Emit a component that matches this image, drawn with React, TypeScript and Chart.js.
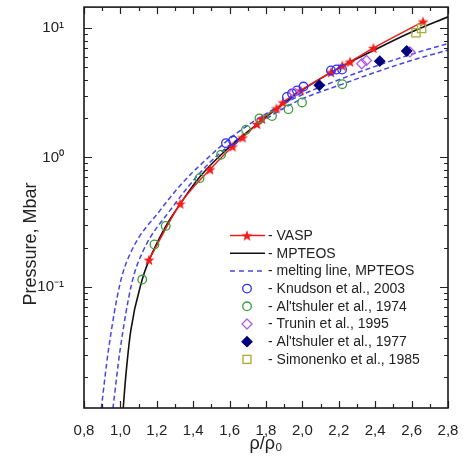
import React, { useEffect, useRef } from 'react';
import { Chart, registerables } from 'chart.js';

Chart.register(...registerables);

// ---------- data ----------
const xTickValues = [0.8, 1.0, 1.2, 1.4, 1.6, 1.8, 2.0, 2.2, 2.4, 2.6, 2.8];
const yTickValues = [0.1, 1, 10];
const yTickLabels = ['10\u207B\u00B9', '10\u2070', '10\u00B9'];

const vaspRho = [1.157, 1.329, 1.492, 1.616, 1.671, 1.751, 1.778, 1.858, 1.893, 1.99, 2.157, 2.219, 2.262, 2.39, 2.663];
const vaspP = [0.162, 0.439, 0.808, 1.216, 1.427, 1.814, 1.99, 2.39, 2.66, 3.29, 4.55, 5.12, 5.49, 7.0, 11.2];

const mpteosRho = [1.012, 1.029, 1.057, 1.12, 1.157, 1.25, 1.33, 1.43, 1.55, 1.75, 1.99, 2.2, 2.39, 2.6, 2.8];
const mpteosP = [0.01, 0.02, 0.046, 0.114, 0.16, 0.295, 0.44, 0.69, 1.04, 1.8, 3.25, 4.9, 6.7, 9.3, 12.2];

const meltARho = [0.895, 0.934, 0.998, 1.062, 1.218, 1.33, 1.437, 1.65, 1.932, 2.216, 2.573, 2.8];
const meltAP = [0.0115, 0.0323, 0.106, 0.191, 0.39, 0.61, 0.87, 1.58, 2.75, 4.06, 6.1, 7.59];

const meltBRho = [0.959, 0.998, 1.062, 1.126, 1.273, 1.476, 1.7, 1.95, 2.216, 2.573, 2.8];
const meltBP = [0.0115, 0.0323, 0.106, 0.191, 0.39, 0.87, 1.58, 2.63, 3.67, 5.47, 6.75];

const knudsonRho = [1.58, 1.619, 1.915, 1.943, 1.97, 2.006, 2.157, 2.187, 2.218];
const knudsonP = [1.29, 1.35, 2.93, 3.12, 3.29, 3.53, 4.7, 4.78, 4.78];

const alt74Rho = [1.12, 1.187, 1.249, 1.435, 1.553, 1.69, 1.764, 1.833, 1.923, 1.998, 2.219];
const alt74P = [0.114, 0.213, 0.296, 0.692, 1.05, 1.64, 2.0, 2.09, 2.36, 2.66, 3.68];

const truninRho = [1.954, 2.326, 2.352, 2.591];
const truninP = [3.18, 5.29, 5.61, 6.53];

const alt77Rho = [2.093, 2.425, 2.573];
const alt77P = [3.61, 5.54, 6.64];

const simonenkoRho = [2.624, 2.655];
const simonenkoP = [9.2, 9.91];

const legendLabels = [
  '- VASP',
  '- MPTEOS',
  '- melting line, MPTEOS',
  '- Knudson et al., 2003',
  "- Al'tshuler et al., 1974",
  '- Trunin et al., 1995',
  "- Al'tshuler et al., 1977",
  '- Simonenko et al., 1985',
];

// ---------- styles ----------
const FONT = "'Liberation Sans', Arial, sans-serif";
const RED = '#f01c1c';
const BLACK = '#111111';
const BLUE_DASH = '#4646e6';
const KNUDSON = '#2f2fff';
const GREEN = '#3c9c3c';
const PURPLE = '#b45ee6';
const NAVY = '#00007a';
const OLIVE = '#a8a838';

const pts = (xs: number[], ys: number[]) => xs.map((x, i) => ({ x, y: ys[i] }));
const fmtX = (v: number) => v.toFixed(1).replace('.', ',');

function makeStar(color: string, r: number) {
  const c = document.createElement('canvas');
  const s = Math.ceil(r * 2 + 2);
  c.width = s;
  c.height = s;
  const g = c.getContext('2d')!;
  g.translate(s / 2, s / 2 + 0.6);
  g.beginPath();
  for (let i = 0; i < 10; i++) {
    const rr = i % 2 === 0 ? r : r * 0.42;
    const a = -Math.PI / 2 + (i * Math.PI) / 5;
    const px = Math.cos(a) * rr;
    const py = Math.sin(a) * rr;
    if (i === 0) g.moveTo(px, py);
    else g.lineTo(px, py);
  }
  g.closePath();
  g.fillStyle = color;
  g.fill();
  return c;
}

export default function App() {
  const canvasRef = useRef<HTMLCanvasElement | null>(null);

  useEffect(() => {
    const canvas = canvasRef.current;
    if (!canvas) return;
    const star = makeStar(RED, 5.8);

    const framePlugin = {
      id: 'frameTicks',
      afterDraw(chart: any) {
        const { ctx, chartArea } = chart;
        const xs = chart.scales.x;
        const ys = chart.scales.y;
        const { left, right, top, bottom } = chartArea;
        ctx.save();
        ctx.strokeStyle = '#222';
        ctx.lineWidth = 1.2;
        ctx.beginPath();
        for (let i = 0; i < xTickValues.length; i++) {
          const px = Math.round(xs.getPixelForValue(xTickValues[i])) + 0.5;
          ctx.moveTo(px, bottom); ctx.lineTo(px, bottom - 7);
          ctx.moveTo(px, top); ctx.lineTo(px, top + 7);
          if (i < xTickValues.length - 1) {
            const mid = (xTickValues[i] + xTickValues[i + 1]) / 2;
            const pm = Math.round(xs.getPixelForValue(mid)) + 0.5;
            ctx.moveTo(pm, bottom); ctx.lineTo(pm, bottom - 4);
            ctx.moveTo(pm, top); ctx.lineTo(pm, top + 4);
          }
        }
        for (let d = -2; d <= 1; d++) {
          for (let m = 1; m <= 9; m++) {
            const v = m * Math.pow(10, d);
            if (v < ys.min || v > ys.max) continue;
            const py = Math.round(ys.getPixelForValue(v)) + 0.5;
            const len = m === 1 ? 8 : 4;
            ctx.moveTo(left, py); ctx.lineTo(left + len, py);
            ctx.moveTo(right, py); ctx.lineTo(right - len, py);
          }
        }
        ctx.stroke();
        ctx.lineWidth = 1.6;
        ctx.strokeStyle = '#1a1a1a';
        ctx.strokeRect(left, top, right - left, bottom - top);

        // y axis title
        ctx.save();
        ctx.translate(31, 244);
        ctx.rotate(-Math.PI / 2);
        ctx.fillStyle = '#222';
        ctx.font = `18px ${FONT}`;
        ctx.textAlign = 'center';
        ctx.textBaseline = 'middle';
        ctx.fillText('Pressure, Mbar', 0, 0);
        ctx.restore();

        // legend
        const rowY0 = 235.5;
        const dy = 17.7;
        const lx0 = 230;
        const lx1 = 265;
        const mx = 247;
        const tx = 268;
        ctx.font = `14px ${FONT}`;
        ctx.textBaseline = 'middle';
        ctx.textAlign = 'left';
        legendLabels.forEach((label, i) => {
          const y = rowY0 + i * dy;
          ctx.save();
          if (i === 0) {
            ctx.strokeStyle = RED; ctx.lineWidth = 1.5;
            ctx.beginPath(); ctx.moveTo(lx0, y); ctx.lineTo(lx1, y); ctx.stroke();
            ctx.drawImage(star, mx - star.width / 2, y - star.height / 2);
          } else if (i === 1) {
            ctx.strokeStyle = BLACK; ctx.lineWidth = 1.6;
            ctx.beginPath(); ctx.moveTo(lx0, y); ctx.lineTo(lx1, y); ctx.stroke();
          } else if (i === 2) {
            ctx.strokeStyle = BLUE_DASH; ctx.lineWidth = 1.5; ctx.setLineDash([5, 4]);
            ctx.beginPath(); ctx.moveTo(lx0, y); ctx.lineTo(lx1, y); ctx.stroke();
          } else if (i === 3 || i === 4) {
            ctx.strokeStyle = i === 3 ? KNUDSON : GREEN; ctx.lineWidth = 1.3;
            ctx.beginPath(); ctx.arc(mx, y, 4.3, 0, Math.PI * 2); ctx.stroke();
          } else if (i === 5 || i === 6) {
            ctx.beginPath();
            ctx.moveTo(mx, y - 5); ctx.lineTo(mx + 5, y); ctx.lineTo(mx, y + 5); ctx.lineTo(mx - 5, y); ctx.closePath();
            if (i === 6) { ctx.fillStyle = NAVY; ctx.fill(); }
            ctx.strokeStyle = i === 5 ? PURPLE : NAVY; ctx.lineWidth = 1.3; ctx.stroke();
          } else {
            ctx.strokeStyle = OLIVE; ctx.lineWidth = 1.3;
            ctx.strokeRect(mx - 4, y - 4, 8, 8);
          }
          ctx.restore();
          ctx.fillStyle = '#222';
          ctx.fillText(label, tx, y + 0.5);
        });
        ctx.restore();
      },
    };

    const pointSet = (label: string, data: any[], style: string, color: string, fill: string, radius: number, order: number) => ({
      type: 'scatter' as const,
      label,
      data,
      showLine: false,
      pointStyle: style,
      pointRadius: radius,
      pointBorderColor: color,
      pointBackgroundColor: fill,
      pointBorderWidth: 1.3,
      borderColor: color,
      backgroundColor: fill,
      order,
    });

    const chart = new Chart(canvas, {
      type: 'line',
      data: {
        datasets: [
          pointSet('Simonenko et al., 1985', pts(simonenkoRho, simonenkoP), 'rect', OLIVE, 'rgba(0,0,0,0)', 5.8, 0),
          pointSet("Al'tshuler et al., 1977", pts(alt77Rho, alt77P), 'rectRot', NAVY, NAVY, 5, 0),
          pointSet('Trunin et al., 1995', pts(truninRho, truninP), 'rectRot', PURPLE, 'rgba(0,0,0,0)', 5, 0),
          pointSet("Al'tshuler et al., 1974", pts(alt74Rho, alt74P), 'circle', GREEN, 'rgba(0,0,0,0)', 4.3, 0),
          pointSet('Knudson et al., 2003', pts(knudsonRho, knudsonP), 'circle', KNUDSON, 'rgba(0,0,0,0)', 4.3, 0),
          {
            label: 'VASP',
            data: pts(vaspRho, vaspP),
            borderColor: RED,
            backgroundColor: RED,
            borderWidth: 1.5,
            pointStyle: star as any,
            pointRadius: 5,
            cubicInterpolationMode: 'monotone',
            order: 1,
          } as any,
          {
            label: 'MPTEOS',
            data: pts(mpteosRho, mpteosP),
            borderColor: BLACK,
            borderWidth: 1.6,
            pointRadius: 0,
            cubicInterpolationMode: 'monotone',
            order: 2,
          } as any,
          {
            label: 'melting line, MPTEOS',
            data: pts(meltARho, meltAP),
            borderColor: BLUE_DASH,
            borderWidth: 1.5,
            borderDash: [5, 3],
            pointRadius: 0,
            cubicInterpolationMode: 'monotone',
            order: 3,
          } as any,
          {
            label: 'melting line, MPTEOS (2)',
            data: pts(meltBRho, meltBP),
            borderColor: BLUE_DASH,
            borderWidth: 1.5,
            borderDash: [5, 3],
            pointRadius: 0,
            cubicInterpolationMode: 'monotone',
            order: 3,
          } as any,
        ],
      },
      options: {
        animation: false,
        responsive: true,
        maintainAspectRatio: false,
        layout: { padding: { left: 0, top: 7, right: 20, bottom: 0 } },
        plugins: {
          legend: { display: false },
          tooltip: { enabled: false },
        },
        scales: {
          x: {
            type: 'linear',
            min: 0.8,
            max: 2.8,
            afterBuildTicks: (scale: any) => {
              scale.ticks = xTickValues.map((v) => ({ value: v }));
            },
            afterFit: (scale: any) => {
              scale.height = 57;
              scale.paddingLeft = 0;
              scale.paddingRight = 0;
            },
            grid: { display: false },
            border: { display: false },
            ticks: {
              autoSkip: false,
              maxRotation: 0,
              padding: 6,
              color: '#222',
              font: { size: 15, family: FONT },
              callback: (v: any) => fmtX(Number(v)),
            },
            title: {
              display: true,
              text: '\u03C1/\u03C1\u2080',
              color: '#222',
              font: { size: 18, family: FONT },
              padding: { top: 2, bottom: 10 },
            },
          },
          y: {
            type: 'logarithmic',
            min: 0.0116,
            max: 14.5,
            afterBuildTicks: (scale: any) => {
              scale.ticks = yTickValues.map((v) => ({ value: v }));
            },
            afterFit: (scale: any) => {
              scale.width = 84;
              scale.paddingTop = 0;
              scale.paddingBottom = 0;
            },
            grid: { display: false },
            border: { display: false },
            ticks: {
              autoSkip: false,
              padding: 12,
              color: '#222',
              font: { size: 15, family: FONT },
              callback: (v: any, i: number) => yTickLabels[i],
            },
          },
        },
      },
      plugins: [framePlugin],
    } as any);

    return () => chart.destroy();
  }, []);

  return (
    <div style={{ position: 'fixed', left: 0, top: 0, width: 468, height: 465, background: '#fff' }}>
      <canvas ref={canvasRef} />
    </div>
  );
}
